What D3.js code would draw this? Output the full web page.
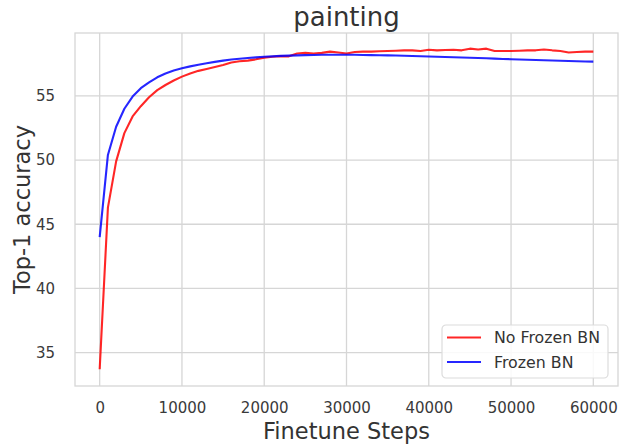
<!DOCTYPE html>
<html>
<head>
<meta charset="utf-8">
<script src="https://cdn.jsdelivr.net/npm/d3@7"></script>
<style>
  body { margin: 0; background: #fff; }
  text { font-family: "DejaVu Sans", sans-serif; }
</style>
</head>
<body>
<div id="chart"></div>
<script>
// steps are logged every 1000 finetune steps
var steps = d3.range(0, 60001, 1000);

var noFrozenBN = [33.7, 46.3, 49.9, 52.1, 53.4, 54.2, 54.9, 55.45, 55.85, 56.2,
  56.5, 56.75, 56.95, 57.1, 57.25, 57.4, 57.6, 57.7, 57.75, 57.85,
  57.98, 58.05, 58.1, 58.08, 58.3, 58.35, 58.3, 58.35, 58.45, 58.38,
  58.3, 58.42, 58.45, 58.45, 58.48, 58.5, 58.52, 58.55, 58.55, 58.5,
  58.6, 58.55, 58.58, 58.6, 58.55, 58.68, 58.62, 58.68, 58.5, 58.5,
  58.5, 58.52, 58.55, 58.55, 58.62, 58.55, 58.5, 58.38, 58.42, 58.45, 58.45];

var frozenBN = [44.0, 50.4, 52.6, 54.0, 54.95, 55.6, 56.05, 56.45, 56.75, 56.97,
  57.15, 57.3, 57.43, 57.55, 57.65, 57.75, 57.83, 57.9, 57.95, 58.0,
  58.05, 58.08, 58.12, 58.14, 58.16, 58.18, 58.19, 58.2, 58.2, 58.2,
  58.2, 58.2, 58.19, 58.18, 58.17, 58.16, 58.15, 58.13, 58.11, 58.09,
  58.07, 58.05, 58.03, 58.01, 57.99, 57.97, 57.95, 57.93, 57.9, 57.88,
  57.86, 57.84, 57.82, 57.8, 57.78, 57.76, 57.74, 57.72, 57.7, 57.68, 57.67];

var xTicks = [0, 10000, 20000, 30000, 40000, 50000, 60000];
var yTicks = [35, 40, 45, 50, 55];
var seriesNames = ["No Frozen BN", "Frozen BN"];
var seriesColors = ["#ff0000", "#0000ff"];

var W = 621, H = 444;
var pLeft = 75, pRight = 618, pTop = 33, pBottom = 386;

var svg = d3.select("#chart").append("svg").attr("width", W).attr("height", H);

var x = d3.scaleLinear().domain([-3000, 63000]).range([pLeft, pRight]);
var y = d3.scaleLinear().domain([32.4, 59.9]).range([pBottom, pTop]);

var gridColor = "#d6d6d6";

// grid
svg.append("g").selectAll("line").data(xTicks).enter().append("line")
  .attr("x1", d => x(d)).attr("x2", d => x(d))
  .attr("y1", pTop).attr("y2", pBottom)
  .attr("stroke", gridColor).attr("stroke-width", 1.3);
svg.append("g").selectAll("line").data(yTicks).enter().append("line")
  .attr("x1", pLeft).attr("x2", pRight)
  .attr("y1", d => y(d)).attr("y2", d => y(d))
  .attr("stroke", gridColor).attr("stroke-width", 1.3);

// frame
svg.append("rect").attr("x", pLeft).attr("y", pTop)
  .attr("width", pRight - pLeft).attr("height", pBottom - pTop)
  .attr("fill", "none").attr("stroke", gridColor).attr("stroke-width", 1.3);

// axes (tick labels only, seaborn whitegrid style)
var xAxis = svg.append("g").attr("transform", "translate(0," + pBottom + ")")
  .call(d3.axisBottom(x).tickValues(xTicks).tickSize(0).tickPadding(16).tickFormat(d3.format("d")));
var yAxis = svg.append("g").attr("transform", "translate(" + pLeft + ",0)")
  .call(d3.axisLeft(y).tickValues(yTicks).tickSize(0).tickPadding(20).tickFormat(d3.format("d")));
[xAxis, yAxis].forEach(function (a) {
  a.select(".domain").remove();
  a.selectAll("text").attr("font-family", "DejaVu Sans").attr("font-size", 15).attr("fill", "#3a3a3a");
});

// lines
var line = d3.line().x((d, i) => x(steps[i])).y(d => y(d));
[noFrozenBN, frozenBN].forEach(function (s, i) {
  svg.append("path").datum(s)
    .attr("d", line)
    .attr("fill", "none")
    .attr("stroke", seriesColors[i])
    .attr("stroke-opacity", 0.85)
    .attr("stroke-width", 2.1)
    .attr("stroke-linejoin", "round");
});

// title and axis labels
svg.append("text").attr("x", (pLeft + pRight) / 2).attr("y", 26)
  .attr("text-anchor", "middle").attr("font-size", 26).attr("fill", "#333")
  .text("painting");
svg.append("text").attr("x", (pLeft + pRight) / 2).attr("y", 439)
  .attr("text-anchor", "middle").attr("font-size", 22.5).attr("fill", "#333")
  .text("Finetune Steps");
svg.append("text")
  .attr("transform", "translate(30," + ((pTop + pBottom) / 2) + ") rotate(-90)")
  .attr("text-anchor", "middle").attr("font-size", 22.5).attr("fill", "#333")
  .text("Top-1 accuracy");

// legend
var lg = svg.append("g").attr("transform", "translate(442,325)");
lg.append("rect").attr("width", 166).attr("height", 53).attr("rx", 4)
  .attr("fill", "#fff").attr("fill-opacity", 0.85)
  .attr("stroke", "#dcdcdc").attr("stroke-width", 1.2);
seriesNames.forEach(function (n, i) {
  var yy = 12.5 + i * 24.5;
  lg.append("line").attr("x1", 5).attr("x2", 39).attr("y1", yy).attr("y2", yy)
    .attr("stroke", seriesColors[i]).attr("stroke-opacity", 0.85).attr("stroke-width", 2.1);
  lg.append("text").attr("x", 52).attr("y", yy + 5.5).attr("font-size", 15.8)
    .attr("fill", "#333").text(n);
});
</script>
</body>
</html>
